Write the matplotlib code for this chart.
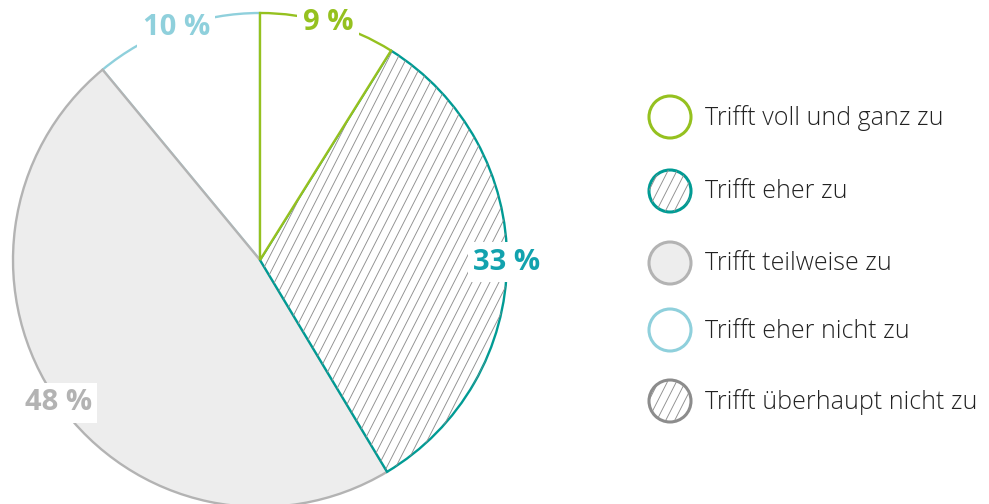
import numpy as np
import matplotlib
matplotlib.use("Agg")
import matplotlib.pyplot as plt
from matplotlib.patches import Circle
from matplotlib.collections import LineCollection

categories = ["Trifft voll und ganz zu", "Trifft eher zu", "Trifft teilweise zu",
              "Trifft eher nicht zu", "Trifft überhaupt nicht zu"]
shares = [8.9, 32.5, 47.6, 11.0, 0]
share_labels = ["9 %", "33 %", "48 %", "10 %", "0 %"]

edge_colors = ["#95c11f", "#009b94", "#b3b3b3", "#8fd0dc", "#8c8c8c"]
face_colors = ["white", "white", "#ededed", "white", "white"]
label_colors = ["#95c11f", "#12a2ae", "#b3b3b3", "#8fd0dc", "#8c8c8c"]
hatched = [False, True, False, False, True]

W, H = 989, 504
fig = plt.figure(figsize=(W / 100, H / 100), dpi=100)
ax = fig.add_axes([0, 0, 1, 1])

cx, cy, R = 260, 244, 247


def add_hatch(ax, patch, x0, y0, r, angle=63, spacing=8.0, zorder=1):
	a = np.deg2rad(angle)
	d = np.array([np.cos(a), np.sin(a)])
	n = np.array([-np.sin(a), np.cos(a)])
	segs = []
	for k in np.arange(-r, r + spacing, spacing):
		p = np.array([x0, y0]) + k * n
		segs.append([p - 1.2 * r * d, p + 1.2 * r * d])
	lc = LineCollection(segs, colors="#8f8f8f", linewidths=0.65, zorder=zorder)
	ax.add_collection(lc)
	lc.set_clip_path(patch)


# pie without empty categories
idx = [i for i, s in enumerate(shares) if s > 0]
vals = [shares[i] for i in idx]

wedges, texts = ax.pie(
	vals, center=(cx, cy), radius=R, startangle=90, counterclock=False,
	frame=True, wedgeprops={"linewidth": 1.7})

zorders = [5, 4, 3, 2]
for w, i, z in zip(wedges, idx, zorders):
	w.set_facecolor(face_colors[i])
	w.set_edgecolor(edge_colors[i])
	w.set_zorder(z)
	if hatched[i]:
		add_hatch(ax, w, cx, cy, R, zorder=z)
	# percentage label on the rim at the middle of the slice
	mid = np.deg2rad((w.theta1 + w.theta2) / 2)
	ax.text(cx + R * np.cos(mid), cy + R * np.sin(mid), share_labels[i],
		fontsize=21, fontweight="bold", family="Open Sans", color=label_colors[i],
		ha="center", va="center", zorder=10,
		bbox={"facecolor": "white", "edgecolor": "none", "pad": 4})

# legend
leg_x = 670
leg_y = [387, 313, 241, 174, 103]
for i, name in enumerate(categories):
	c = Circle((leg_x, leg_y[i]), 21, facecolor=face_colors[i], edgecolor=edge_colors[i],
		linewidth=2.2, zorder=5)
	ax.add_patch(c)
	if hatched[i]:
		add_hatch(ax, c, leg_x, leg_y[i], 21, zorder=5)
	ax.text(705, leg_y[i] - 1, name, fontsize=18, color="#222222", va="center", ha="left",
		family="Open Sans", fontweight="light")

ax.set_xlim(0, W)
ax.set_ylim(0, H)
ax.set_aspect("equal")
ax.axis("off")

fig.savefig("out.png", dpi=100)
